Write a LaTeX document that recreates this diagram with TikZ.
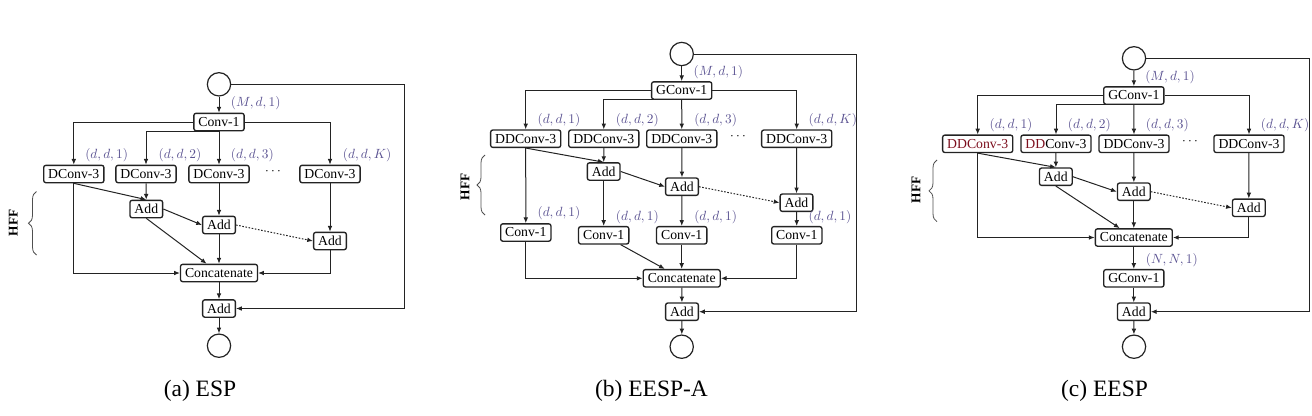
\documentclass[tikz,border=0pt]{standalone}
\usepackage[no-math]{fontspec}
\setmainfont{Liberation Serif}
\usetikzlibrary{arrows.meta,decorations.pathreplacing}
\definecolor{lab}{RGB}{90,82,145}
\definecolor{ln}{RGB}{35,35,35}
\definecolor{dred}{RGB}{125,15,30}
\begin{document}
\begin{tikzpicture}[x=0.75pt,y=-0.75pt,
 blk/.style={draw=ln,line width=1pt,rounded corners=1.6pt,inner xsep=3.4pt,inner ysep=0pt,minimum height=13pt,font=\fontsize{10.3}{12}\selectfont},
 circ/.style={draw=ln,line width=0.9pt,circle,minimum size=17.5pt,inner sep=0pt},
 lbl/.style={anchor=west,text=lab,inner sep=0pt,font=\fontsize{9.6}{11}\selectfont},
 arr/.style={draw=ln,line width=0.75pt,-{Latex[length=4.3pt,width=3.5pt]}},
 dotarr/.style={arr,dash pattern=on 1.2pt off 1.2pt},
 capt/.style={anchor=base,font=\fontsize{17.6}{20}\selectfont,inner sep=0pt},
 hff/.style={rotate=90,font=\fontsize{10}{11}\selectfont\bfseries,inner sep=0pt},
 brc/.style={draw=ln!80,line width=0.6pt,decorate,decoration={brace,amplitude=6pt}},
 dts/.style={inner sep=0pt,font=\fontsize{10}{12}\selectfont}
]
\path[use as bounding box] (0,0) rectangle (1312,415);

% ================= (a) ESP =================
\node[circ] (a0) at (219,84.3) {};
\node[blk] (aconv) at (219,122) {Conv-1};
\node[blk] (ad1) at (73.8,174) {DConv-3};
\node[blk] (ad2) at (146,174) {DConv-3};
\node[blk] (ad3) at (219,174) {DConv-3};
\node[dts] (adots) at (273,172) {$\cdots$};
\node[blk] (adK) at (330,174) {DConv-3};
\node[blk] (aadd1) at (146.3,209) {Add};
\node[blk] (aadd2) at (219,225) {Add};
\node[blk] (aadd3) at (330,241) {Add};
\node[blk] (acat) at (219,273) {Concatenate};
\node[blk] (aaddf) at (219,308.5) {Add};
\node[circ] (a9) at (219,345.7) {};
\node[lbl] (alM) at (230.7,103.3) {$(M,d,1)$};
\node[lbl] (al1) at (85,155) {$(d,d,1)$};
\node[lbl] (al2) at (158.3,155) {$(d,d,2)$};
\node[lbl] (al3) at (230.7,155) {$(d,d,3)$};
\node[lbl] (alK) at (342.7,155) {$(d,d,K)$};
\coordinate (askip) at (404.3,308.5);
\draw[arr] (a0) -- (aconv);
\draw[arr] (aconv.west) -| (ad1.north);
\draw[arr] (aconv.east) -| (adK.north);
\draw[arr] (aconv.south) -| (ad2.north);
\draw[arr] (aconv) -- (ad3);
\draw[arr] (ad1.south) -- (aadd1.north);
\draw[arr] (ad1.south) |- (acat.west);
\draw[arr] (ad2) -- (aadd1);
\draw[arr] (ad3) -- (aadd2);
\draw[arr] (adK) -- (aadd3);
\draw[arr] (aadd1.east) -- (aadd2.west);
\draw[dotarr] (aadd2.east) -- (aadd3.west);
\draw[arr] (aadd1.south) -- (acat);
\draw[arr] (aadd2) -- (acat);
\draw[arr] (aadd3.south) |- (acat.east);
\draw[arr] (acat) -- (aaddf);
\draw[arr] (aaddf) -- (a9);
\draw[arr] (a0.east) -| (askip) -- (aaddf.east);
\draw[brc] (36.5,255) -- (36.5,191.5);
\node[hff] (ahff) at (13.3,223) {HFF};
\node[capt] (acap) at (200,396) {(a) ESP};

% ================= (b) EESP-A =================
\node[circ] (b0) at (681.7,54) {};
\node[blk] (bg) at (681.7,90.5) {GConv-1};
\node[blk] (bd1) at (525.7,138.7) {DDConv-3};
\node[blk] (bd2) at (603.8,138.7) {DDConv-3};
\node[blk] (bd3) at (681.8,138.7) {DDConv-3};
\node[dts] (bdots) at (738,137) {$\cdots$};
\node[blk] (bdK) at (796.7,138.7) {DDConv-3};
\node[blk] (badd1) at (603.7,171.5) {Add};
\node[blk] (badd2) at (682,186.7) {Add};
\node[blk] (badd3) at (796.5,202.7) {Add};
\node[blk] (bc1) at (525.8,232.5) {Conv-1};
\node[blk] (bc2) at (603.7,235.3) {Conv-1};
\node[blk] (bc3) at (681.7,235.3) {Conv-1};
\node[blk] (bc4) at (796.8,235.3) {Conv-1};
\node[blk] (bcat) at (681.7,278.3) {Concatenate};
\node[blk] (baddf) at (682,311.7) {Add};
\node[circ] (b9) at (681.7,346.7) {};
\node[lbl] (blM) at (693.3,71.7) {$(M,d,1)$};
\node[lbl] (bl1) at (537.3,120) {$(d,d,1)$};
\node[lbl] (bl2) at (615.7,120) {$(d,d,2)$};
\node[lbl] (bl3) at (694,120) {$(d,d,3)$};
\node[lbl] (blK) at (808.3,120) {$(d,d,K)$};
\node[lbl] (bm1) at (537.3,213.3) {$(d,d,1)$};
\node[lbl] (bm2) at (615.7,216.7) {$(d,d,1)$};
\node[lbl] (bm3) at (694,216.7) {$(d,d,1)$};
\node[lbl] (bm4) at (808.3,216.7) {$(d,d,1)$};
\coordinate (bskip) at (856.7,311.7);
\draw[arr] (b0) -- (bg);
\draw[arr] (bg.west) -| (bd1.north);
\draw[arr] (bg.east) -| (bdK.north);
\draw[arr] (bg.south) -| (bd2.north);
\draw[arr] (bg) -- (bd3);
\draw[arr] (bd1) -- (bc1);
\draw[arr] (bd1.south) -- (badd1.north);
\draw[arr] (bd2) -- (badd1);
\draw[arr] (badd1) -- (bc2);
\draw[arr] (badd1.east) -- (badd2.west);
\draw[arr] (bd3) -- (badd2);
\draw[arr] (badd2) -- (bc3);
\draw[dotarr] (badd2.east) -- (badd3.west);
\draw[arr] (bdK) -- (badd3);
\draw[arr] (badd3) -- (bc4);
\draw[arr] (bc1.south) |- (bcat.west);
\draw[arr] (bc2) -- (bcat);
\draw[arr] (bc3) -- (bcat);
\draw[arr] (bc4.south) |- (bcat.east);
\draw[arr] (bcat) -- (baddf);
\draw[arr] (baddf) -- (b9);
\draw[arr] (b0.east) -| (bskip) -- (baddf.east);
\draw[brc] (485,215) -- (485,155);
\node[hff] (bhff) at (465,186.7) {HFF};
\node[capt] (bcap) at (651.5,396) {(b) EESP-A};

% ================= (c) EESP =================
\node[circ] (c0) at (1134,58.3) {};
\node[blk] (cg) at (1133.8,95.5) {GConv-1};
\node[blk,text=dred] (cd1) at (977.7,143.8) {DDConv-3};
\node[blk] (cd2) at (1056,143.8) {\textcolor{dred}{DD}Conv-3};
\node[blk] (cd3) at (1134,143.8) {DDConv-3};
\node[dts] (cdots) at (1190,142) {$\cdots$};
\node[blk] (cdK) at (1249,143.8) {DDConv-3};
\node[blk] (cadd1) at (1055.8,176.7) {Add};
\node[blk] (cadd2) at (1133.8,191.7) {Add};
\node[blk] (cadd3) at (1248.8,207.8) {Add};
\node[blk] (ccat) at (1133.8,237.5) {Concatenate};
\node[blk] (cg2) at (1133.8,278.3) {GConv-1};
\node[blk] (caddf) at (1133.8,311.7) {Add};
\node[circ] (c9) at (1134,346.7) {};
\node[lbl] (clM) at (1145,76.7) {$(M,d,1)$};
\node[lbl] (cl1) at (989.3,125) {$(d,d,1)$};
\node[lbl] (cl2) at (1067.7,125) {$(d,d,2)$};
\node[lbl] (cl3) at (1145.7,125) {$(d,d,3)$};
\node[lbl] (clK) at (1260.7,125) {$(d,d,K)$};
\node[lbl] (clN) at (1145.7,260) {$(N,N,1)$};
\coordinate (cskip) at (1309,311.7);
\draw[arr] (c0) -- (cg);
\draw[arr] (cg.west) -| (cd1.north);
\draw[arr] (cg.east) -| (cdK.north);
\draw[arr] (cg.south) -| (cd2.north);
\draw[arr] (cg) -- (cd3);
\draw[arr] (cd1.south) -- (cadd1.north);
\draw[arr] (cd1.south) |- (ccat.west);
\draw[arr] (cd2) -- (cadd1);
\draw[arr] (cd3) -- (cadd2);
\draw[arr] (cdK) -- (cadd3);
\draw[arr] (cadd1.east) -- (cadd2.west);
\draw[dotarr] (cadd2.east) -- (cadd3.west);
\draw[arr] (cadd1.south) -- (ccat);
\draw[arr] (cadd2) -- (ccat);
\draw[arr] (cadd3.south) |- (ccat.east);
\draw[arr] (ccat) -- (cg2);
\draw[arr] (cg2) -- (caddf);
\draw[arr] (caddf) -- (c9);
\draw[arr] (c0.east) -| (cskip) -- (caddf.east);
\draw[brc] (937,221.7) -- (937,160);
\node[hff] (chff) at (916,190) {HFF};
\node[capt] (ccap) at (1104.5,396) {(c) EESP};
\end{tikzpicture}
\end{document}
